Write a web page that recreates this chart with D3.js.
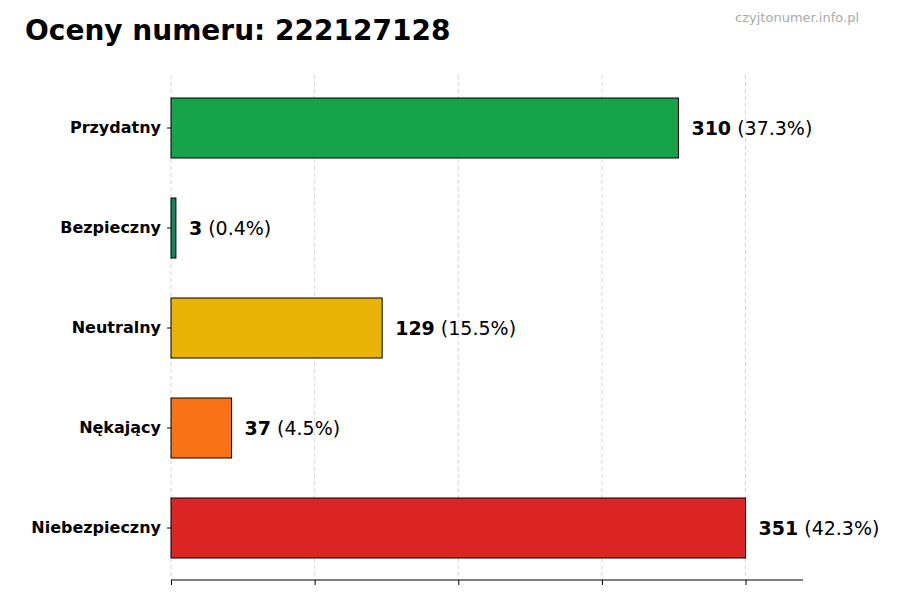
<!DOCTYPE html>
<html><head><meta charset="utf-8">
<script src="https://cdn.jsdelivr.net/npm/d3@7"></script>
<style>body{margin:0;background:#fff}</style></head>
<body><svg id="c" width="900" height="600"></svg>
<script>
(function () {
const categories = ["Przydatny", "Bezpieczny", "Neutralny", "Nękający", "Niebezpieczny"];
const values = [310, 3, 129, 37, 351];
const colors = ["#16a34a", "#15875a", "#eab308", "#f97316", "#dc2626"];
const total = d3.sum(values);
const maxV = d3.max(values);

const svg = d3.select("#c");
const plotLeft = 171, plotRight = 803, plotTop = 78, plotBottom = 578;

const x = d3.scaleLinear().domain([0, maxV * 1.1]).range([plotLeft, plotRight]);
const y = d3.scaleBand().domain(categories).range([plotTop, plotBottom]).paddingInner(0.4).paddingOuter(0.2);

// grid
const ticks = [0, 0.25, 0.5, 0.75, 1].map(f => f * maxV);
svg.append("g").selectAll("line").data(ticks).enter().append("line")
  .attr("x1", d => x(d)).attr("x2", d => x(d))
  .attr("y1", 75).attr("y2", 580)
  .attr("stroke", "#ccc").attr("stroke-dasharray", "4,3").attr("stroke-width", 0.8);

// bars
svg.append("g").selectAll("rect").data(values).enter().append("rect")
  .attr("x", x(0)).attr("y", (d, i) => y(categories[i]))
  .attr("width", d => x(d) - x(0)).attr("height", y.bandwidth())
  .attr("fill", (d, i) => colors[i]).attr("stroke", "#000").attr("stroke-width", 1);

// value labels
const lab = svg.append("g").selectAll("text").data(values).enter().append("text")
  .attr("x", d => x(d) + 13).attr("y", (d, i) => y(categories[i]) + y.bandwidth() / 2)
  .attr("dy", "0.35em").attr("font-family", "DejaVu Sans").attr("font-size", 19);
lab.append("tspan").attr("font-weight", "bold").text(d => d);
lab.append("tspan").text(d => " (" + (d / total * 100).toFixed(1) + "%)");

// y axis
const ya = svg.append("g").attr("transform", `translate(${plotLeft},0)`)
  .call(d3.axisLeft(y).tickSize(4).tickPadding(6));
ya.select(".domain").remove();
ya.selectAll("text").attr("font-family", "DejaVu Sans").attr("font-size", 16)
  .attr("font-weight", "bold").attr("fill", "#000");

// x axis
const xa = svg.append("g").attr("transform", `translate(0,580)`)
  .call(d3.axisBottom(x).tickValues(ticks).tickFormat("").tickSize(5).tickSizeOuter(0));
xa.select(".domain").attr("d", `M${plotLeft},0H${plotRight}`);

svg.append("text").attr("x", 25).attr("y", 40).attr("font-family", "DejaVu Sans")
  .attr("font-size", 28).attr("font-weight", "bold").text("Oceny numeru: 222127128");
svg.append("text").attr("x", 859).attr("y", 22).attr("text-anchor", "end")
  .attr("font-family", "DejaVu Sans").attr("font-size", 13).attr("fill", "#aaa").text("czyjtonumer.info.pl");
})();
</script></body></html>
